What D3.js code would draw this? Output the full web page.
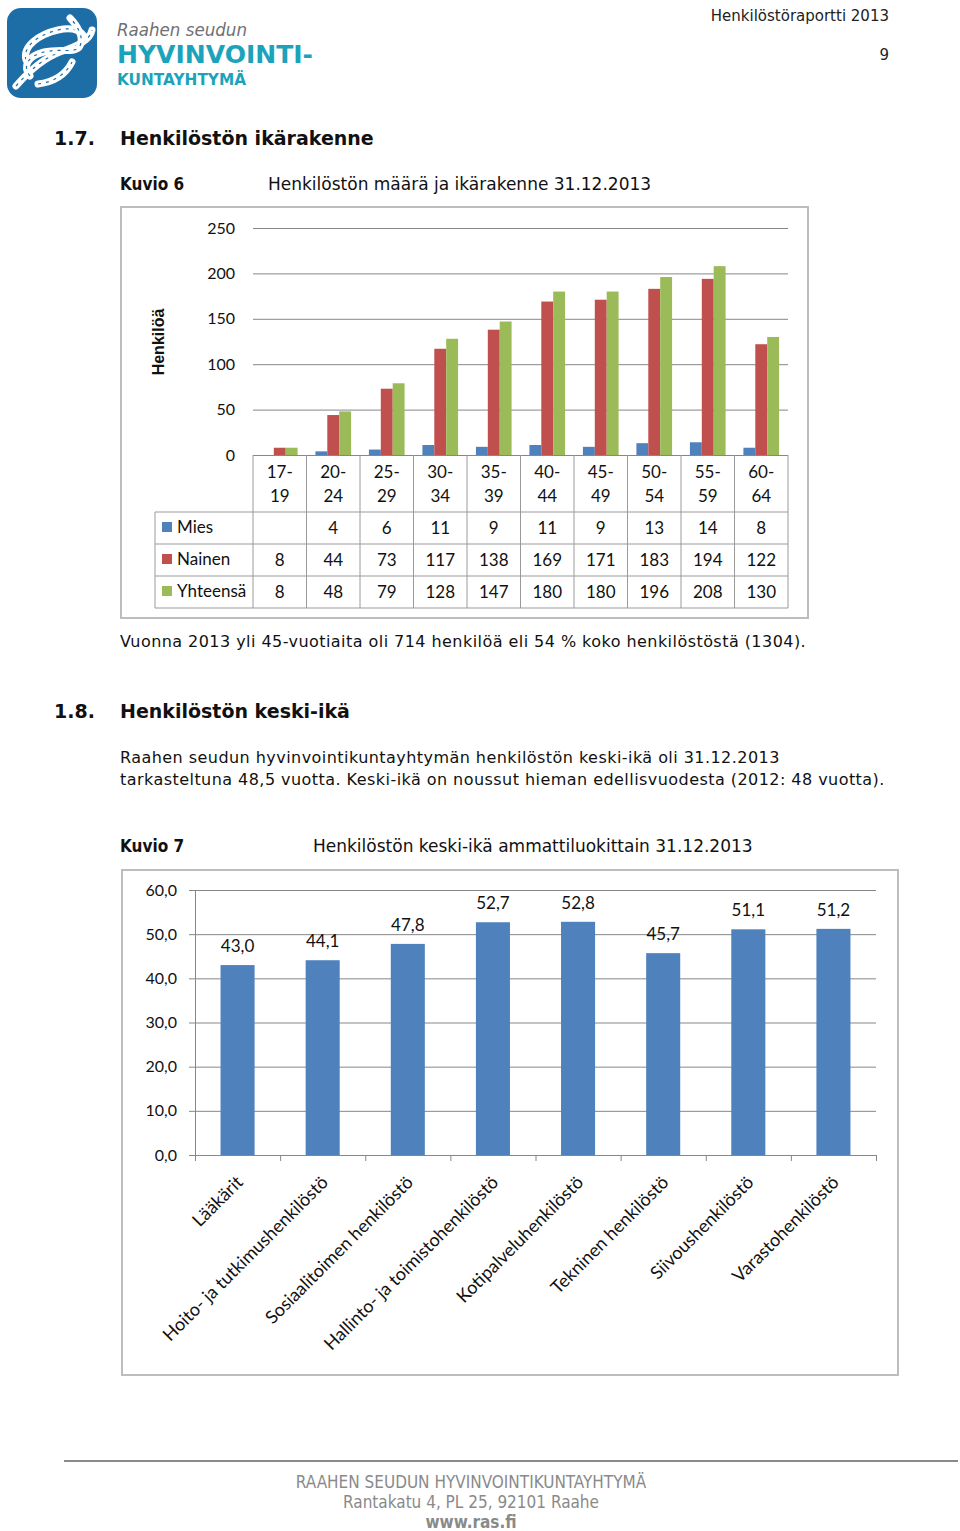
<!DOCTYPE html>
<html>
<head>
<meta charset="utf-8">
<script src="https://cdn.jsdelivr.net/npm/d3@7"></script>
<style>
  body { margin: 0; background: #fff; }
  svg { display: block; }
</style>
</head>
<body>
<svg></svg>
<script>
// Kuvio 6 data
const ageGroups = ['17-19', '20-24', '25-29', '30-34', '35-39', '40-44', '45-49', '50-54', '55-59', '60-64']
const mies = [null, 4, 6, 11, 9, 11, 9, 13, 14, 8]
const nainen = [8, 44, 73, 117, 138, 169, 171, 183, 194, 122]
const yhteensa = [8, 48, 79, 128, 147, 180, 180, 196, 208, 130]
const seriesNames = ['Mies', 'Nainen', 'Yhteensä']
const ticks1 = [0, 50, 100, 150, 200, 250]

// Kuvio 7 data
const occupations = ['Lääkärit', 'Hoito- ja tutkimushenkilöstö', 'Sosiaalitoimen henkilöstö',
  'Hallinto- ja toimistohenkilöstö', 'Kotipalveluhenkilöstö', 'Tekninen henkilöstö',
  'Siivoushenkilöstö', 'Varastohenkilöstö']
const meanAge = [43.0, 44.1, 47.8, 52.7, 52.8, 45.7, 51.1, 51.2]
const ticks2 = [0, 10, 20, 30, 40, 50, 60]

let w = 960
let h = 1531
const colors = ['#4F81BD', '#C0504D', '#9BBB59']
const grid = '#878787'
const sans = '"DejaVu Sans", sans-serif'
const cond = '"DejaVu Sans Condensed", "DejaVu Sans", sans-serif'
const chartFont = 'Lato, "Open Sans", sans-serif'
const fmt = v => v.toFixed(1).replace('.', ',')

const svg = d3.select('svg')
  .attr('width', w)
  .attr('height', h)

// Logo
const logo = svg.append('g')
logo.append('rect')
  .attr('x', 7).attr('y', 8).attr('width', 90).attr('height', 90)
  .attr('rx', 14).attr('fill', '#1d6ea6')
const knots = [
  'M16,86 C30,70 44,58 60,52 C78,46 90,40 92,30',
  'M26,60 C22,46 40,34 58,30 C72,27 80,30 84,36',
  'M30,76 C22,66 28,56 44,52 C60,48 76,54 80,46 C84,38 78,26 70,18',
  'M38,84 C54,82 66,74 72,62'
]
knots.forEach(d => {
  logo.append('path').attr('d', d).attr('fill', 'none')
    .attr('stroke', '#fff').attr('stroke-width', 7).attr('stroke-linecap', 'round')
  logo.append('path').attr('d', d).attr('fill', 'none')
    .attr('stroke', '#1d6ea6').attr('stroke-width', 1.2).attr('stroke-dasharray', '3 5')
})
logo.append('text').text('Raahen seudun')
  .attr('x', 117).attr('y', 36)
  .attr('font-family', sans).attr('font-style', 'italic')
  .attr('font-size', 17.5).attr('fill', '#6f7072')
  .attr('textLength', 130).attr('lengthAdjust', 'spacingAndGlyphs')
logo.append('text').text('HYVINVOINTI-')
  .attr('x', 117).attr('y', 63)
  .attr('font-family', sans).attr('font-weight', 'bold')
  .attr('font-size', 24).attr('fill', '#1ba3bb')
  .attr('textLength', 196).attr('lengthAdjust', 'spacingAndGlyphs')
logo.append('text').text('KUNTAYHTYMÄ')
  .attr('x', 117).attr('y', 85)
  .attr('font-family', sans).attr('font-weight', 'bold')
  .attr('font-size', 15).attr('fill', '#1ba3bb')
  .attr('textLength', 129).attr('lengthAdjust', 'spacingAndGlyphs')

// Page header
svg.append('text').text('Henkilöstöraportti 2013')
  .attr('x', 889).attr('y', 21).attr('text-anchor', 'end')
  .attr('font-family', sans).attr('font-size', 15).attr('fill', '#222')
svg.append('text').text('9')
  .attr('x', 889).attr('y', 60).attr('text-anchor', 'end')
  .attr('font-family', sans).attr('font-size', 15).attr('fill', '#222')

// Body text
const texts = [
  { t: '1.7.', x: 54, y: 145, s: 19, b: true, f: sans },
  { t: 'Henkilöstön ikärakenne', x: 120, y: 145, s: 19, b: true, f: sans },
  { t: 'Kuvio 6', x: 120, y: 190, s: 17, b: true, f: cond },
  { t: 'Henkilöstön määrä ja ikärakenne 31.12.2013', x: 268, y: 190, s: 17, f: sans },
  { t: 'Vuonna 2013 yli 45-vuotiaita oli 714 henkilöä eli 54 % koko henkilöstöstä (1304).', x: 120, y: 647, s: 16, f: sans, ls: 0.45 },
  { t: '1.8.', x: 54, y: 718, s: 19, b: true, f: sans },
  { t: 'Henkilöstön keski-ikä', x: 120, y: 718, s: 19, b: true, f: sans },
  { t: 'Raahen seudun hyvinvointikuntayhtymän henkilöstön keski-ikä oli 31.12.2013', x: 120, y: 763, s: 16, f: sans, ls: 0.45 },
  { t: 'tarkasteltuna 48,5 vuotta. Keski-ikä on noussut hieman edellisvuodesta (2012: 48 vuotta).', x: 120, y: 785, s: 16, f: sans, ls: 0.45 },
  { t: 'Kuvio 7', x: 120, y: 852, s: 17, b: true, f: cond },
  { t: 'Henkilöstön keski-ikä ammattiluokittain 31.12.2013', x: 313, y: 852, s: 17, f: sans }
]
svg.selectAll('text.body')
  .data(texts)
  .enter()
  .append('text')
  .attr('class', 'body')
  .attr('x', d => d.x)
  .attr('y', d => d.y)
  .attr('font-family', d => d.f)
  .attr('font-size', d => d.s)
  .attr('font-weight', d => d.b ? 'bold' : 'normal')
  .attr('letter-spacing', d => d.ls || 0)
  .attr('fill', '#111')
  .text(d => d.t)

// ---------- Kuvio 6 ----------
svg.append('rect')
  .attr('x', 121).attr('y', 207).attr('width', 687).attr('height', 411)
  .attr('fill', 'none').attr('stroke', '#bdbdbd').attr('stroke-width', 2)

const x1 = d3.scaleBand()
  .domain(ageGroups)
  .range([253, 788])

const xSeries = d3.scaleBand()
  .domain(seriesNames)
  .range([0, x1.bandwidth()])
  .paddingOuter(0.75)

const y1 = d3.scaleLinear()
  .domain([0, 250])
  .range([455, 228])

const c1 = svg.append('g')

c1.append('g')
  .attr('transform', 'translate(253,0)')
  .call(d3.axisLeft(y1).tickValues(ticks1).tickSize(-535).tickPadding(18))
  .call(g => g.select('.domain').remove())
  .call(g => g.selectAll('line').attr('stroke', grid))
  .call(g => g.selectAll('text').attr('font-family', chartFont).attr('font-size', 16).attr('fill', '#111'))

c1.append('text').text('Henkilöä')
  .attr('transform', 'translate(164,342) rotate(-90)')
  .attr('text-anchor', 'middle')
  .attr('font-family', '"Liberation Sans", Arial, sans-serif').attr('font-weight', 'bold')
  .attr('font-size', 16).attr('fill', '#111')

const seriesData = [mies, nainen, yhteensa]
seriesData.forEach((vals, si) => {
  c1.append('g')
    .selectAll('rect')
    .data(vals.map((v, i) => ({ v, cat: ageGroups[i] })).filter(d => d.v !== null))
    .enter()
    .append('rect')
    .attr('x', d => x1(d.cat) + xSeries(seriesNames[si]))
    .attr('width', xSeries.bandwidth())
    .attr('y', d => y1(d.v))
    .attr('height', d => y1(0) - y1(d.v))
    .attr('fill', colors[si])
})

// Data table
const tableLeft = 155
const rowTop = 512
const rowH = 32
const table = c1.append('g')
  .attr('stroke', '#9a9a9a').attr('stroke-width', 1)

table.selectAll('line.v')
  .data(ageGroups.concat(['end']))
  .enter()
  .append('line')
  .attr('x1', (d, i) => x1.range()[0] + i * x1.step())
  .attr('x2', (d, i) => x1.range()[0] + i * x1.step())
  .attr('y1', 455)
  .attr('y2', rowTop + 3 * rowH)

table.selectAll('line.h')
  .data([0, 1, 2, 3])
  .enter()
  .append('line')
  .attr('x1', tableLeft).attr('x2', 788)
  .attr('y1', d => rowTop + d * rowH)
  .attr('y2', d => rowTop + d * rowH)

table.append('line')
  .attr('x1', tableLeft).attr('x2', tableLeft)
  .attr('y1', rowTop).attr('y2', rowTop + 3 * rowH)

// category labels split on two lines
const catLabels = c1.append('g')
  .selectAll('text')
  .data(ageGroups)
  .enter()
  .append('text')
  .attr('text-anchor', 'middle')
  .attr('font-family', chartFont).attr('font-size', 17).attr('fill', '#111')
catLabels.append('tspan')
  .attr('x', d => x1(d) + x1.bandwidth() / 2).attr('y', 478)
  .text(d => d.split('-')[0] + '-')
catLabels.append('tspan')
  .attr('x', d => x1(d) + x1.bandwidth() / 2).attr('y', 502)
  .text(d => d.split('-')[1])

seriesData.forEach((vals, si) => {
  const ry = rowTop + si * rowH + rowH / 2
  c1.append('rect')
    .attr('x', 162).attr('y', ry - 6).attr('width', 10).attr('height', 10)
    .attr('fill', colors[si])
  c1.append('text').text(seriesNames[si])
    .attr('x', 177).attr('y', ry).attr('dy', '0.3em')
    .attr('font-family', chartFont).attr('font-size', 17).attr('fill', '#111')
  c1.append('g')
    .selectAll('text')
    .data(vals.map((v, i) => ({ v, cat: ageGroups[i] })).filter(d => d.v !== null))
    .enter()
    .append('text')
    .attr('x', d => x1(d.cat) + x1.bandwidth() / 2)
    .attr('y', ry).attr('dy', '0.35em')
    .attr('text-anchor', 'middle')
    .attr('font-family', chartFont).attr('font-size', 17).attr('fill', '#111')
    .text(d => d.v)
})

// ---------- Kuvio 7 ----------
svg.append('rect')
  .attr('x', 122).attr('y', 870).attr('width', 776).attr('height', 505)
  .attr('fill', 'none').attr('stroke', '#bdbdbd').attr('stroke-width', 2)

const x2 = d3.scaleBand()
  .domain(occupations)
  .range([195, 876])
  .paddingInner(0.6)
  .paddingOuter(0.3)

const y2 = d3.scaleLinear()
  .domain([0, 60])
  .range([1155, 890])

const c2 = svg.append('g')

c2.append('g')
  .attr('transform', 'translate(195,0)')
  .call(d3.axisLeft(y2).tickValues(ticks2).tickSize(-681).tickFormat(fmt).tickPadding(18))
  .call(g => g.select('.domain').remove())
  .call(g => g.selectAll('line').attr('stroke', grid))
  .call(g => g.selectAll('text').attr('font-family', chartFont).attr('font-size', 16).attr('fill', '#111'))

// small outer ticks on the value axis
c2.append('g')
  .attr('transform', 'translate(195,0)')
  .call(d3.axisLeft(y2).tickValues(ticks2).tickSize(6).tickFormat(''))
  .call(g => g.selectAll('line, path').attr('stroke', grid))

c2.append('g')
  .selectAll('rect')
  .data(meanAge)
  .enter()
  .append('rect')
  .attr('x', (d, i) => x2(occupations[i]))
  .attr('width', x2.bandwidth())
  .attr('y', d => y2(d))
  .attr('height', d => y2(0) - y2(d))
  .attr('fill', colors[0])

c2.append('g')
  .selectAll('text')
  .data(meanAge)
  .enter()
  .append('text')
  .attr('x', (d, i) => x2(occupations[i]) + x2.bandwidth() / 2)
  .attr('y', d => y2(d) - 13)
  .attr('text-anchor', 'middle')
  .attr('font-family', chartFont).attr('font-size', 17).attr('fill', '#111')
  .text(fmt)

// category axis with ticks at band edges
const edge = d3.scaleLinear().domain([0, occupations.length]).range([195, 876])
c2.append('g')
  .attr('transform', 'translate(0,1155)')
  .call(d3.axisBottom(edge).ticks(occupations.length).tickSize(6).tickFormat(''))
  .call(g => g.selectAll('line, path').attr('stroke', grid))

c2.append('g')
  .selectAll('text')
  .data(occupations)
  .enter()
  .append('text')
  .attr('transform', d => 'translate(' + (x2(d) + x2.bandwidth() / 2 + 2) + ',1179) rotate(-45)')
  .attr('dy', '0.35em')
  .attr('text-anchor', 'end')
  .attr('font-family', chartFont).attr('font-size', 18).attr('fill', '#111')
  .text(d => d)

// Footer
svg.append('line')
  .attr('x1', 64).attr('x2', 958).attr('y1', 1461).attr('y2', 1461)
  .attr('stroke', '#8a8a8a').attr('stroke-width', 2)
const footer = ['RAAHEN SEUDUN HYVINVOINTIKUNTAYHTYMÄ', 'Rantakatu 4, PL 25, 92101 Raahe', 'www.ras.fi']
svg.selectAll('text.footer')
  .data(footer)
  .enter()
  .append('text')
  .attr('class', 'footer')
  .attr('x', 471)
  .attr('y', (d, i) => 1488 + i * 20)
  .attr('text-anchor', 'middle')
  .attr('font-family', cond).attr('font-size', 17)
  .attr('font-weight', (d, i) => i == 2 ? 'bold' : 'normal')
  .attr('fill', '#8a8a8a')
  .text(d => d)
</script>
</body>
</html>
